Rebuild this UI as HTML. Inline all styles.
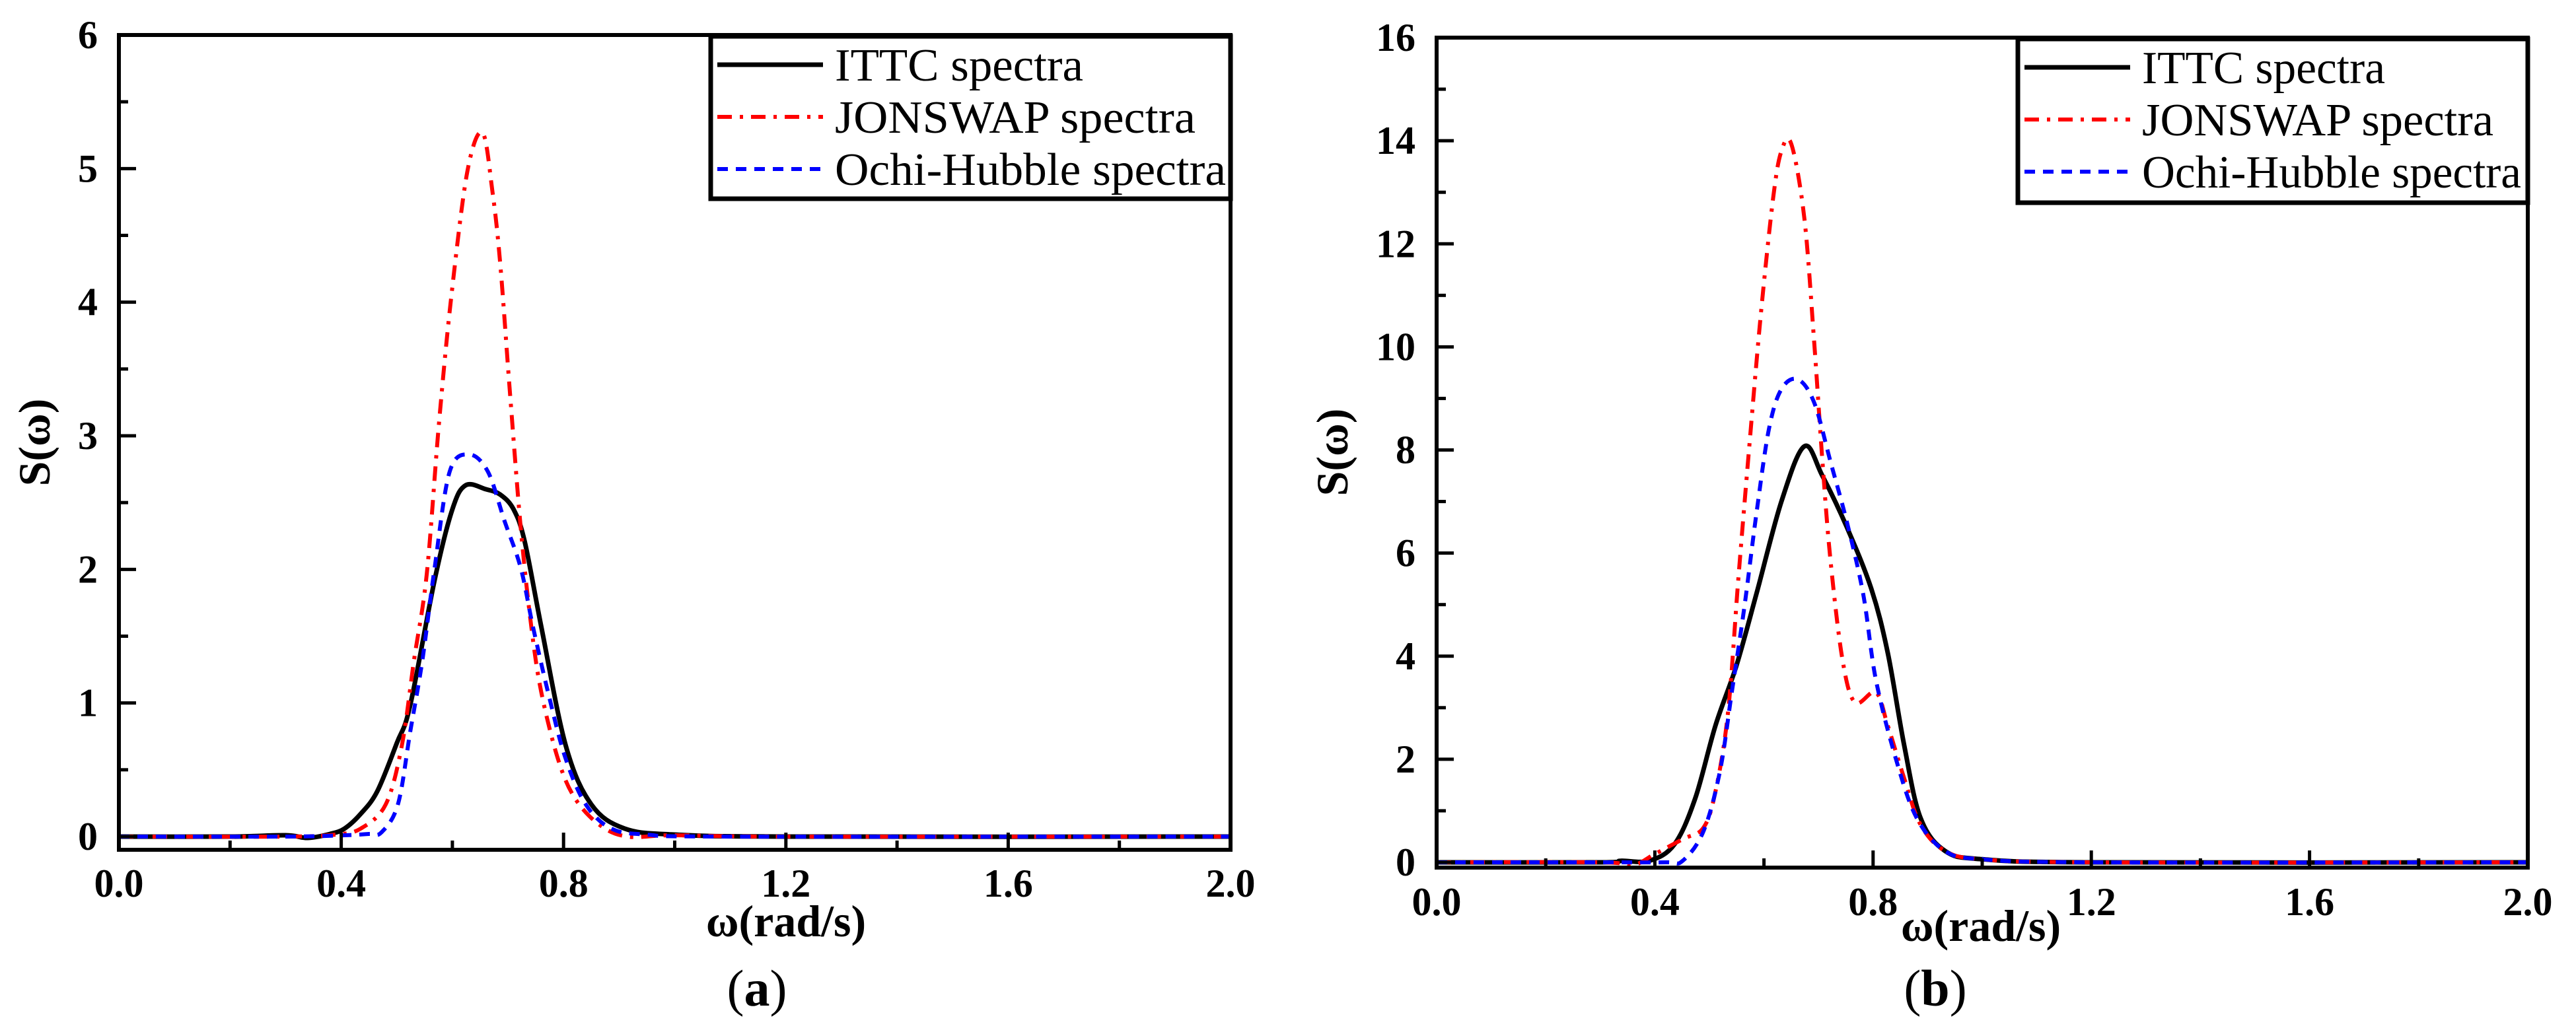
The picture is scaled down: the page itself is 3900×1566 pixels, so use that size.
<!DOCTYPE html>
<html><head><meta charset="utf-8">
<style>
html,body{margin:0;padding:0;background:#fff;}
svg{display:block;}
text{font-family:"Liberation Serif",serif;}
</style></head>
<body>
<svg id="fig" width="3900" height="1566" viewBox="0 0 3900 1566" xmlns="http://www.w3.org/2000/svg">
<g id="pa"></g>
<g id="pb"></g>
</svg>
<script>
const xTicks = [0.0, 0.4, 0.8, 1.2, 1.6, 2.0];
const xTickLabels = ["0.0","0.4","0.8","1.2","1.6","2.0"];
const yTicksA = [0,1,2,3,4,5,6];
const yTicksB = [0,2,4,6,8,10,12,14,16];
const seriesNames = ["ITTC spectra","JONSWAP spectra","Ochi-Hubble spectra"];

const ittcAx = [0,0.2,0.3,0.34,0.38,0.406,0.435,0.465,0.5,0.524,0.568,0.6,0.624,0.66,0.686,0.71,0.73,0.76,0.804,0.85,0.91,1.0,1.2,2.0];
const ittcAy = [0,0,0.01,-0.01,0.02,0.06,0.17,0.34,0.7,0.98,1.92,2.45,2.63,2.6,2.56,2.45,2.21,1.57,0.68,0.24,0.06,0.015,0,0];
const jonAx = [0,0.3,0.39,0.435,0.48,0.509,0.531,0.554,0.576,0.598,0.627,0.654,0.672,0.686,0.704,0.723,0.742,0.76,0.79,0.82,0.864,0.915,1.0,1.2,2.0];
const jonAy = [0,0,0.015,0.06,0.24,0.68,1.32,1.97,3.1,4.04,4.98,5.27,4.83,4.29,3.3,2.31,1.57,1.08,0.58,0.29,0.09,0.0,0.01,0,0];
const ochAx = [0,0.3,0.406,0.45,0.472,0.502,0.524,0.546,0.568,0.595,0.63,0.664,0.694,0.723,0.745,0.775,0.804,0.84,0.886,0.95,1.1,2.0];
const ochAy = [0,0,0.01,0.02,0.03,0.24,0.78,1.32,2.01,2.73,2.86,2.73,2.36,2.01,1.57,1.03,0.58,0.24,0.06,0.015,0,0];

const ittcBx = [0,0.3,0.338,0.39,0.436,0.474,0.511,0.549,0.586,0.632,0.674,0.707,0.752,0.797,0.827,0.857,0.887,0.932,1.0,1.2,2.0];
const ittcBy = [0,0,0.03,0.03,0.35,1.24,2.65,3.8,5.2,7.0,8.07,7.5,6.5,5.3,4.06,2.27,0.86,0.22,0.06,0,0];
const jonBx = [0,0.3,0.36,0.398,0.451,0.489,0.511,0.534,0.553,0.571,0.594,0.617,0.632,0.65,0.674,0.692,0.707,0.722,0.744,0.767,0.805,0.827,0.857,0.887,0.932,1.0,1.2,2.0];
const jonBy = [0,0,-0.05,0.15,0.45,0.67,1.37,2.9,5.5,7.8,10.6,12.9,13.8,13.94,12.5,10.1,7.8,5.85,3.93,3.1,3.3,2.65,1.63,0.73,0.22,0.06,0,0];
const ochBx = [0,0.3,0.42,0.451,0.489,0.519,0.541,0.564,0.586,0.609,0.632,0.662,0.692,0.722,0.752,0.782,0.805,0.842,0.88,0.932,1.0,1.2,2.0];
const ochBy = [0,0,0,0.03,0.6,1.75,3.3,4.95,6.75,8.4,9.18,9.37,8.92,7.77,6.6,5.2,3.55,2.0,0.86,0.22,0.06,0,0];

const NS="http://www.w3.org/2000/svg";
function mk(tag, parent, attrs){const e=document.createElementNS(NS,tag);for(const k in attrs)e.setAttribute(k,attrs[k]);parent.appendChild(e);return e;}
function pathFrom(xs,ys,sx,sy){
  const p=xs.map((x,i)=>[sx(x),sy(ys[i])]);
  let d="M"+p[0][0].toFixed(1)+","+p[0][1].toFixed(1);
  for(let i=0;i<p.length-1;i++){
    const p0=p[i>0?i-1:i],p1=p[i],p2=p[i+1],p3=p[i+2<p.length?i+2:i+1];
    const c1=[p1[0]+(p2[0]-p0[0])/6,p1[1]+(p2[1]-p0[1])/6];
    const c2=[p2[0]-(p3[0]-p1[0])/6,p2[1]-(p3[1]-p1[1])/6];
    d+=" C"+c1[0].toFixed(1)+","+c1[1].toFixed(1)+" "+c2[0].toFixed(1)+","+c2[1].toFixed(1)+" "+p2[0].toFixed(1)+","+p2[1].toFixed(1);
  }
  return d;
}
function panel(g,cfg){
  const sx=v=>cfg.x0+(v-0)/2*(cfg.x1-cfg.x0);
  const sy=v=>cfg.y0-(v/cfg.ymax)*(cfg.y0-cfg.yTop);
  const styles=[{c:"#000",w:7,da:""},{c:"#ff0000",w:6,da:"22 12 5 12"},{c:"#0000ff",w:6,da:"16 12"}];
  const sets=cfg.series;
  [0,1,2].forEach(i=>{
    const e=mk("path",g,{d:pathFrom(sets[i][0],sets[i][1],sx,sy),fill:"none",stroke:styles[i].c,"stroke-width":styles[i].w,"stroke-dasharray":styles[i].da,"stroke-linejoin":"round"});
    
    
  });
  const fr=mk("rect",g,{x:cfg.x0,y:cfg.yTop,width:cfg.x1-cfg.x0,height:cfg.yB-cfg.yTop,fill:"none",stroke:"#000","stroke-width":6});
  
  
  for(let k=0;k<=10;k++){
    const v=k*0.2;const X=sx(v);const len=(k%2===0)?26:14;
    const t=mk("line",g,{x1:X,x2:X,y1:cfg.yB,y2:cfg.yB-len,stroke:"#000","stroke-width":5});
    
    
  }
  xTicks.forEach((v,i)=>{
    const t=mk("text",g,{x:sx(v),y:cfg.xlabY,"text-anchor":"middle","font-size":60,"font-weight":"bold"});
    t.textContent=xTickLabels[i];
    
    
  });
  const yt=cfg.yticks;const step=yt[1]-yt[0];
  for(let v=0;v<=cfg.ymax+1e-9;v+=step/2){
    const Y=sy(v);const major=Math.abs((v/step)-Math.round(v/step))<1e-6;
    const t=mk("line",g,{x1:cfg.x0,x2:cfg.x0+(major?26:14),y1:Y,y2:Y,stroke:"#000","stroke-width":5});
    
    
  }
  yt.forEach(v=>{
    const t=mk("text",g,{x:cfg.x0-32,y:sy(v)+20,"text-anchor":"end","font-size":60,"font-weight":"bold"});
    t.textContent=String(v);
    
    
  });
  const xt=mk("text",g,{x:cfg.xtX,y:cfg.xtY,"text-anchor":"middle","font-size":68,"font-weight":"bold"});
  xt.textContent="ω(rad/s)";
  
  
  const ytl=mk("text",g,{x:0,y:0,"text-anchor":"middle","font-size":68,"font-weight":"bold",transform:"translate("+cfg.ytX+","+cfg.ytY+") rotate(-90)"});
  ytl.textContent="S(ω)";
  
  
  const pl=mk("text",g,{x:cfg.plX,y:1523,"text-anchor":"middle","font-size":78});
  pl.innerHTML='(<tspan font-weight="bold">'+cfg.letter+'</tspan>)';
  
  
  const L=mk("g",g,{});
  
  
  const lb=mk("rect",L,{x:cfg.lgX,y:cfg.yTop+2,width:cfg.x1-cfg.lgX,height:cfg.lgH,fill:"#fff",stroke:"#000","stroke-width":7});
  
  
  seriesNames.forEach((n,i)=>{
    const yy=cfg.yTop+45+i*79;
    const ln=mk("line",L,{x1:cfg.lgX+10,x2:cfg.lgX+170,y1:yy,y2:yy,stroke:styles[i].c,"stroke-width":styles[i].w,"stroke-dasharray":styles[i].da});
    
    
    const tx=mk("text",L,{x:cfg.lgX+188,y:yy+24,"font-size":70,textLength:cfg.lgLen[i],lengthAdjust:"spacingAndGlyphs"});
    tx.textContent=n;
    
    
  });
}
panel(document.getElementById("pa"),{x0:180,x1:1863,yTop:53,y0:1267,yB:1287,ymax:6,yticks:yTicksA,xlabY:1358,xtX:1190,xtY:1418,ytX:75,ytY:670,plX:1146,letter:"a",lgX:1076,lgH:246,lgLen:[376,546,592],
  series:[[ittcAx,ittcAy],[jonAx,jonAy],[ochAx,ochAy]]});
panel(document.getElementById("pb"),{x0:2175,x1:3827,yTop:57,y0:1306,yB:1314,ymax:16,yticks:yTicksB,xlabY:1386,xtX:2999,xtY:1425,ytX:2040,ytY:685,plX:2930,letter:"b",lgX:3055,lgH:248,lgLen:[368,532,574],
  series:[[ittcBx,ittcBy],[jonBx,jonBy],[ochBx,ochBy]]});
</script>
</body></html>
